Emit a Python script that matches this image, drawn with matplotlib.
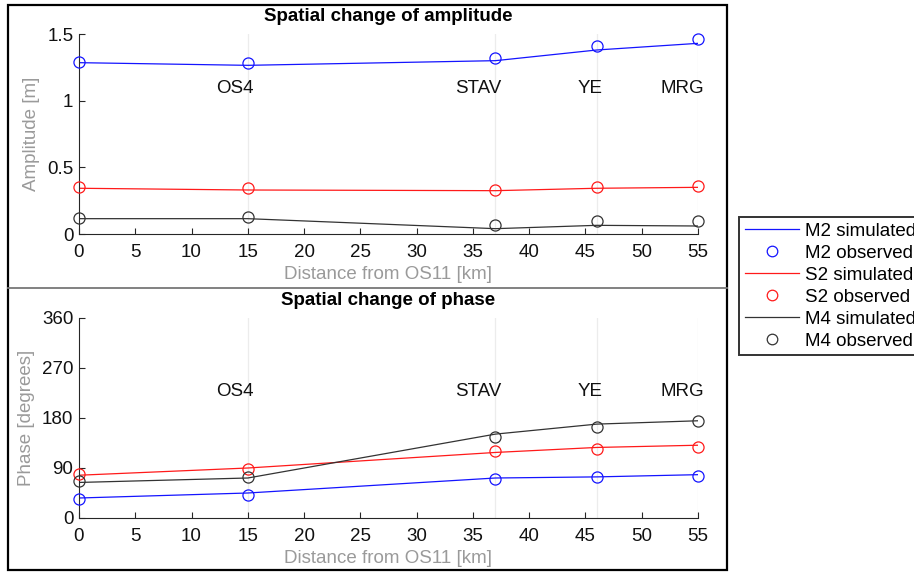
import matplotlib
matplotlib.use("Agg")
import matplotlib.pyplot as plt
from matplotlib.lines import Line2D
from matplotlib.patches import Rectangle

plt.rcParams["font.family"] = ["Liberation Sans", "DejaVu Sans"]
plt.rcParams["font.size"] = 13.5

# stations along the estuary, distance from OS11 [km]
dist_km = [0, 15, 37, 46, 55]
station_names = ["", "OS4", "STAV", "YE", "MRG"]

# amplitude [m]
amp_m2_sim = [1.285, 1.265, 1.30, 1.38, 1.43]
amp_m2_obs = [1.29, 1.285, 1.32, 1.41, 1.46]
amp_s2_sim = [0.343, 0.33, 0.325, 0.343, 0.35]
amp_s2_obs = [0.355, 0.345, 0.332, 0.352, 0.36]
amp_m4_sim = [0.115, 0.115, 0.04, 0.065, 0.06]
amp_m4_obs = [0.123, 0.125, 0.068, 0.095, 0.095]

# phase [degrees]
pha_m2_sim = [36, 45, 72, 74, 78]
pha_m2_obs = [34, 42, 70, 73, 76]
pha_s2_sim = [77, 90, 118, 127, 131]
pha_s2_obs = [80, 88, 121, 124, 128]
pha_m4_sim = [64, 72, 151, 169, 175]
pha_m4_obs = [66, 74, 146, 163, 174]

BLUE, RED, DARK = "#1414ff", "#ff1a1a", "#333333"
AXC = "#262626"
LABC = "#9a9a9a"
FS = 13.5

fig = plt.figure(figsize=(9.14, 5.72), dpi=100)
W, H = 914, 572


def fig_box(x0, y0, x1, y1):
    # pixel box (top-left origin) -> figure fraction rect
    return [x0 / W, 1 - y1 / H, (x1 - x0) / W, (y1 - y0) / H]


ax_amp = fig.add_axes(fig_box(79, 34, 698, 234))
ax_pha = fig.add_axes(fig_box(79, 318, 698, 518))


def draw_panel(ax, sims, obss, ylim, yticks, yticklabels, ylabel, title, label_y):
    for x in dist_km[1:]:
        ax.axvline(x, color="#ececec", lw=0.9, zorder=0)
    handles = []
    for name, sim, obs, c in zip(["M2", "S2", "M4"], sims, obss, [BLUE, RED, DARK]):
        h1, = ax.plot(dist_km, sim, color=c, lw=0.9, label=f"{name} simulated")
        h2, = ax.plot(dist_km, obs, "o", mfc="none", mec=c, ms=8, mew=0.9,
                      label=f"{name} observed", clip_on=False, zorder=4)
        handles += [h1, h2]
    for x, s in zip(dist_km, station_names):
        if s:
            ax.text(x + 0.5, label_y, s, ha="right", va="center", fontsize=FS, color="#111111")
    ax.set_xlim(0, 55)
    ax.set_ylim(*ylim)
    ax.set_xticks(range(0, 56, 5))
    ax.set_yticks(yticks)
    ax.set_yticklabels(yticklabels)
    ax.spines[["top", "right"]].set_visible(False)
    for sp in ("left", "bottom"):
        ax.spines[sp].set_color(AXC)
        ax.spines[sp].set_linewidth(0.8)
    ax.tick_params(direction="in", length=4.5, width=0.8, color=AXC,
                   labelsize=FS, labelcolor="#111111")
    ax.tick_params(axis="x", pad=7.5)
    ax.tick_params(axis="y", pad=4)
    ax.set_xlabel("Distance from OS11 [km]", color=LABC, fontsize=FS, labelpad=3)
    ax.set_ylabel(ylabel, color=LABC, fontsize=FS, labelpad=5)
    ax.set_title(title, fontweight="bold", fontsize=FS, pad=9.5)
    ax.patch.set_alpha(0)
    return handles


handles = draw_panel(ax_amp, [amp_m2_sim, amp_s2_sim, amp_m4_sim],
                     [amp_m2_obs, amp_s2_obs, amp_m4_obs],
                     (0, 1.5), [0, 0.5, 1, 1.5], ["0", "0.5", "1", "1.5"],
                     "Amplitude [m]", "Spatial change of amplitude", 1.095)
draw_panel(ax_pha, [pha_m2_sim, pha_s2_sim, pha_m4_sim],
           [pha_m2_obs, pha_s2_obs, pha_m4_obs],
           (0, 360), [0, 90, 180, 270, 360], ["0", "90", "180", "270", "360"],
           "Phase [degrees]", "Spatial change of phase", 227)

# outer frames around the two panels
fig.add_artist(Rectangle((8 / W, 1 - 570 / H), (727 - 8) / W, (570 - 5) / H,
                         transform=fig.transFigure, fill=False, ec="black", lw=1.6))
fig.add_artist(Line2D([8 / W, 727 / W], [1 - 287.5 / H] * 2,
                      transform=fig.transFigure, color="#777777", lw=1.3))

leg = fig.legend(handles=handles, loc="upper left",
                 bbox_to_anchor=(739 / W, 1 - 217 / H),
                 fontsize=FS, frameon=True, fancybox=False, handlelength=2.9,
                 handletextpad=0.32, labelspacing=0.26, borderpad=0.3,
                 borderaxespad=0, markerscale=0.95)
leg.get_frame().set_edgecolor("black")
leg.get_frame().set_linewidth(1.4)

fig.savefig("out.png", dpi=100)
